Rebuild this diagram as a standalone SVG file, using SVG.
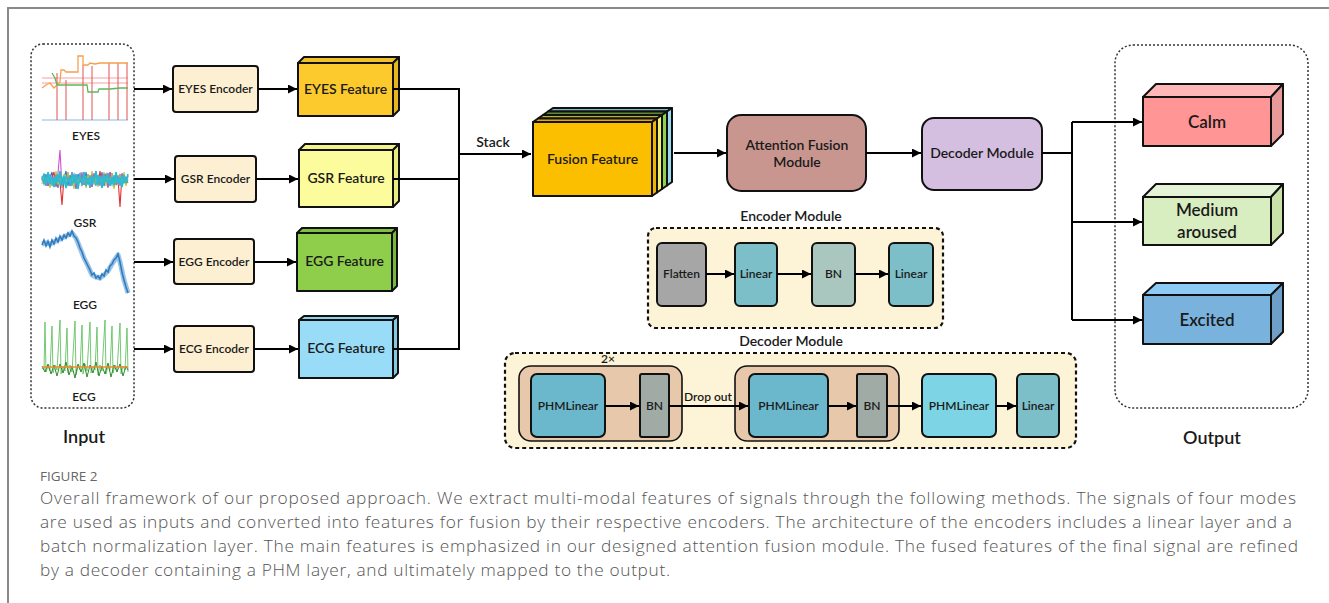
<svg xmlns="http://www.w3.org/2000/svg" width="1329" height="603" viewBox="0 0 1329 603">
<defs>
<marker id="ah" viewBox="0 0 10 10" refX="10" refY="5" markerWidth="13" markerHeight="9" markerUnits="userSpaceOnUse" orient="auto"><path d="M0,0 L10,5 L0,10 z" fill="#000"/></marker>
<style>
text{font-family:Lato,"Liberation Sans",Arial,sans-serif;fill:#1a1a1a;text-anchor:middle;font-weight:600}
.lbl{font-size:12px}
.enc{fill:#fdf0d2;stroke:#111;stroke-width:2}
.edge{stroke:#111;stroke-width:2;stroke-linejoin:round}
.c{fill:none;stroke:#000;stroke-width:2}
.a{marker-end:url(#ah)}
.dot{fill:none;stroke:#333;stroke-width:1.5;stroke-dasharray:2 2}
.dash{stroke:#111;stroke-width:2.2;stroke-dasharray:4 3}
.sm{font-size:12px}
.md{font-size:14px}
.cap{font-family:"Open Sans","Liberation Sans",sans-serif;font-size:17.3px;fill:#555;text-anchor:start;font-weight:300}
</style>
</defs>
<rect width="1329" height="603" fill="#fff"/>
<path d="M8,603 V8 H1329" fill="none" stroke="#8a8a8a" stroke-width="2"/>

<g id="input">
<rect x="31" y="44" width="103" height="364" rx="12" class="dot"/>
<g id="sig-eyes" fill="none">
<line x1="42" y1="120" x2="128" y2="120" stroke="#8fbce0" stroke-width="1.2"/>
<line x1="42" y1="78" x2="128" y2="78" stroke="#f4a0a0" stroke-width="1"/>
<line x1="42" y1="83" x2="128" y2="83" stroke="#f4a0a0" stroke-width="1"/>
<g stroke="#e05050" stroke-width="1"><path d="M57,73V120M66,80V120M83,65V120M92,66V120M109,63V120M118,63V120M127,63V120"/></g>
<polyline stroke="#f5a050" stroke-width="1.3" points="42,88 46,85 50,83 54,88 58,84 60,82 61,70 64,70 66,72 72,72 78,72 78,56 83,56 83,65 88,65 90,63 95,64 100,63 110,63 128,63"/>
<polyline stroke="#5cb85c" stroke-width="1.3" points="52,73 55,78 57,85 65,85 75,85 85,85 87,85 88,92 98,92 99,89 110,89 120,88 128,88"/>
</g>
<text x="86" y="140" class="lbl">EYES</text>
<g id="sig-gsr" fill="none" stroke-width="1.1">
<polyline stroke="#3070d0" points="42,177 44,183 46,174 48,186 50,179 52,172 54,185 56,176 58,188 60,173 62,182 64,178 66,171 68,186 70,175 72,183 74,177 76,189 78,174 80,181 82,176 84,185 86,172 88,184 90,178 92,187 94,174 96,181 98,176 100,183 102,172 104,186 106,178 108,175 110,184 112,173 114,187 116,176 118,182 120,174 122,185 124,178 126,180 128,176"/>
<polyline stroke="#e03030" points="42,181 44,176 46,186 48,173 50,183 52,178 54,172 56,187 58,175 60,182 62,205 64,177 66,184 68,174 70,186 72,172 74,183 76,178 78,185 80,173 82,181 84,176 86,186 88,174 90,188 92,175 94,182 96,177 98,184 100,171 102,186 104,179 106,174 108,187 110,172 112,183 114,176 116,185 118,178 120,207 122,174 124,182 126,179 128,183"/>
<polyline stroke="#d050d0" points="42,178 44,183 46,176 48,186 50,174 52,181 54,177 56,185 58,173 60,150 62,188 64,175 66,184 68,172 70,186 72,179 74,174 76,187 78,176 80,183 82,172 84,185 86,178 88,184 90,175 92,187 94,173 96,182 98,177 100,186 102,174 104,183 106,176 108,188 110,172 112,181 114,178 116,184 118,175 120,186 122,173 124,182 126,177 128,180"/>
<polyline stroke="#c8c020" points="42,184 44,173 46,183 48,175 50,188 52,178 54,186 56,171 58,185 60,177 62,187 64,174 66,182 68,172 70,184 72,176 74,189 76,175 78,183 80,173 82,186 84,178 86,188 88,174 90,184 92,171 94,185 96,177 98,187 100,176 102,182 104,172 106,186 108,175 110,183 112,173 114,189 116,178 118,185 120,174 122,184 124,172 126,186 128,177"/>
<polyline stroke="#20c0d0" stroke-width="1.6" points="42,180 44,174 46,185 48,172 50,184 52,177 54,187 56,175 58,182 60,171 62,186 64,176 66,188 68,178 70,185 72,173 74,183 76,174 78,189 80,177 82,184 84,172 86,186 88,178 90,187 92,175 94,183 96,171 98,185 100,176 102,188 104,174 106,182 108,173 110,186 112,177 114,185 116,172 118,184 120,178 122,187 124,175 126,183 128,174"/>
<polyline stroke="#30b8d8" stroke-width="1.2" points="42,176 44,184 46,178 48,182 50,175 52,186 54,179 56,183 58,174 60,185 62,177 64,184 66,176 68,182 70,178 72,186 74,175 76,183 78,179 80,174 82,185 84,180 86,176 88,183 90,177 92,184 94,179 96,186 98,175 100,182 102,178 104,184 106,176 108,183 110,179 112,185 114,175 116,182 118,178 120,184 122,176 124,183 126,179 128,181"/>
</g>
<text x="85" y="227" class="lbl">GSR</text>
<g id="sig-egg" fill="none">
<polyline stroke="#9cc4e6" stroke-width="5" stroke-linejoin="round" points="42,244 46,243 50,244 54,242 58,240 62,238 66,236 70,234 72,233 76,238 80,248 84,258 88,266 92,275 96,277 100,278 104,275 108,271 112,264 116,258 118,255 120,262 124,280 128,293"/>
<polyline stroke="#2f7dc0" stroke-width="1.6" points="42,245 44,240 46,246 48,241 50,247 52,240 54,244 56,238 58,242 60,236 62,240 64,235 66,238 68,233 70,236 72,231 74,236 76,238 78,242 80,248 82,252 84,258 86,262 88,266 90,270 92,275 94,273 96,278 98,276 100,279 102,274 104,276 106,270 108,272 110,266 112,264 114,260 116,258 118,254 120,262 122,272 124,280 126,287 128,293"/>
</g>
<text x="85" y="309" class="lbl">EGG</text>
<g id="sig-ecg" fill="none">
<polyline stroke="#5cbf5c" stroke-width="1" opacity="0.85" points="42,368 44,370 45,322 46,372 48,366 50,371 52,326 53,373 55,365 57,370 60,320 61,374 63,366 65,371 67,328 68,373 70,365 72,372 75,321 76,375 78,366 80,370 82,325 83,374 85,364 87,371 90,322 91,373 93,366 95,370 97,327 98,375 100,365 102,371 105,320 106,374 108,366 110,370 112,326 113,373 115,365 117,371 120,323 121,374 123,366 125,370 127,328 128,372"/>
<polyline stroke="#2e8b2e" stroke-width="1" points="42,366 45,372 48,364 51,374 54,365 57,376 60,364 63,373 66,362 69,375 72,366 75,378 78,364 81,372 84,363 87,377 90,365 93,373 96,362 99,376 102,366 105,374 108,363 111,377 114,365 117,372 120,364 123,376 126,366 128,370"/>
<line x1="42" y1="367" x2="128" y2="367" stroke="#f08a30" stroke-width="1.6"/>
</g>
<text x="84" y="401" class="lbl">ECG</text>
<text x="84" y="443" style="font-size:18px">Input</text>
</g>

<g id="enc-eyes"><rect x="173" y="66" width="85" height="46" rx="3" class="enc"/><text x="215.5" y="93" class="sm">EYES Encoder</text></g>
<g id="enc-gsr"><rect x="175" y="156" width="81" height="46" rx="3" class="enc"/><text x="215.5" y="183" class="sm">GSR Encoder</text></g>
<g id="enc-egg"><rect x="174" y="239" width="80" height="45" rx="3" class="enc"/><text x="214" y="266" class="sm">EGG Encoder</text></g>
<g id="enc-ecg"><rect x="174" y="326" width="80" height="46" rx="3" class="enc"/><text x="214" y="353" class="sm">ECG Encoder</text></g>

<g id="feat-eyes" class="edge">
<polygon points="298,63 304,57 399,57 393,63" fill="#f2c02a"/>
<polygon points="393,63 399,57 399,110 393,116" fill="#e8b520"/>
<rect x="298" y="63" width="95" height="53" fill="#fdca2e"/>
<text x="345.5" y="94" class="md" style="stroke:none">EYES Feature</text>
</g>
<g id="feat-gsr" class="edge">
<polygon points="299,150 305,144 399,144 393,150" fill="#f4f28a"/>
<polygon points="393,150 399,144 399,201 393,207" fill="#eceb80"/>
<rect x="299" y="150" width="94" height="57" fill="#fdfc9c"/>
<text x="346" y="183" class="md" style="stroke:none">GSR Feature</text>
</g>
<g id="feat-egg" class="edge">
<polygon points="297,233 302,228 397,228 392,233" fill="#80c040"/>
<polygon points="392,233 397,228 397,286 392,291" fill="#78b83a"/>
<rect x="297" y="233" width="95" height="58" fill="#8fce4b"/>
<text x="344.5" y="266" class="md" style="stroke:none">EGG Feature</text>
</g>
<g id="feat-ecg" class="edge">
<polygon points="299,320 304,316 398,316 393,320" fill="#8ed2ee"/>
<polygon points="393,320 398,316 398,373 393,378" fill="#86c8e4"/>
<rect x="299" y="320" width="94" height="58" fill="#99dcf7"/>
<text x="346" y="353" class="md" style="stroke:none">ECG Feature</text>
</g>

<g id="fusion" class="edge" stroke-width="1.6">
<polygon points="548,111.5 667,111.5 672,108 553,108" fill="#7fb8c8"/>
<polygon points="667,111.5 672,108 672,182 667,185.5" fill="#9ad9f0"/>
<polygon points="543,115 662,115 667,111.5 548,111.5" fill="#5f8a30"/>
<polygon points="662,115 667,111.5 667,185.5 662,189" fill="#8fd14f"/>
<polygon points="538,118.5 657,118.5 662,115 543,115" fill="#b8b040"/>
<polygon points="657,118.5 662,115 662,189 657,192.5" fill="#f2ef6a"/>
<polygon points="533,122 652,122 657,118.5 538,118.5" fill="#e0a800"/>
<polygon points="652,122 657,118.5 657,192.5 652,196" fill="#f0b400"/>
<rect x="533" y="122" width="119" height="74" fill="#fcbf00"/>
<text x="592.5" y="164" class="md" style="stroke:none">Fusion Feature</text>
</g>

<g id="attention">
<rect x="727" y="115" width="139" height="76" rx="14" fill="#c9968f" stroke="#111" stroke-width="2"/>
<text x="797" y="150" class="md">Attention Fusion</text>
<text x="797" y="167" class="md">Module</text>
</g>

<g id="decoder">
<rect x="922" y="118" width="120" height="72" rx="12" fill="#d5bfe1" stroke="#111" stroke-width="2"/>
<text x="982" y="158" class="md">Decoder Module</text>
</g>

<g id="encoder-module">
<text x="791" y="221" class="md">Encoder Module</text>
<rect x="648" y="228" width="295" height="100" rx="8" fill="#fdf3d6" class="dash"/>
<rect x="657" y="243" width="49" height="63" rx="5" fill="#a6a6a6" stroke="#111" stroke-width="2"/>
<text x="681.5" y="278" class="sm">Flatten</text>
<rect x="735" y="243" width="42" height="63" rx="5" fill="#7cbfc9" stroke="#111" stroke-width="2"/>
<text x="756" y="278" class="sm">Linear</text>
<rect x="812" y="243" width="43" height="63" rx="5" fill="#a9c7bf" stroke="#111" stroke-width="2"/>
<text x="833.5" y="278" class="sm">BN</text>
<rect x="889" y="243" width="44" height="63" rx="5" fill="#7cbfc9" stroke="#111" stroke-width="2"/>
<text x="911" y="278" class="sm">Linear</text>
</g>

<g id="decoder-module">
<text x="791" y="346" class="md">Decoder Module</text>
<rect x="505" y="353" width="571" height="95" rx="10" fill="#fdf3d6" class="dash"/>
<text x="608" y="363" class="sm">2×</text>
<rect x="519" y="366" width="163" height="75" rx="12" fill="#e8c8aa" stroke="#111" stroke-width="1.6"/>
<rect x="531" y="374" width="74" height="63" rx="6" fill="#6bb7cc" stroke="#111" stroke-width="2"/>
<text x="568" y="410" class="sm">PHMLinear</text>
<rect x="640" y="374" width="29" height="63" rx="2" fill="#a0aba6" stroke="#111" stroke-width="2"/>
<text x="654.5" y="410" class="sm">BN</text>
<text x="708" y="401" class="sm">Drop out</text>
<rect x="735" y="366" width="164" height="75" rx="12" fill="#e8c8aa" stroke="#111" stroke-width="1.6"/>
<rect x="749" y="374" width="79" height="63" rx="6" fill="#6bb7cc" stroke="#111" stroke-width="2"/>
<text x="788.5" y="410" class="sm">PHMLinear</text>
<rect x="857" y="374" width="30" height="63" rx="2" fill="#a0aba6" stroke="#111" stroke-width="2"/>
<text x="872" y="410" class="sm">BN</text>
<rect x="922" y="374" width="74" height="63" rx="6" fill="#7dd4e4" stroke="#111" stroke-width="2"/>
<text x="959" y="410" class="sm">PHMLinear</text>
<rect x="1017" y="374" width="42" height="63" rx="5" fill="#7cbfc9" stroke="#111" stroke-width="2"/>
<text x="1038" y="410" class="sm">Linear</text>
</g>

<g id="output">
<rect x="1115" y="45" width="193" height="363" rx="18" class="dot"/>
<text x="1212" y="444" style="font-size:18px">Output</text>
</g>
<g id="out-calm" class="edge">
<polygon points="1143,97 1156,84 1283,84 1271,97" fill="#ffb6b6"/>
<polygon points="1271,97 1283,84 1283,134 1271,146" fill="#e89a9a"/>
<rect x="1143" y="97" width="128" height="49" fill="#ff9595"/>
<text x="1207" y="128" style="font-size:17px;stroke:none">Calm</text>
</g>
<g id="out-medium" class="edge">
<polygon points="1143,197 1156,184 1283,184 1271,197" fill="#e4f2d6"/>
<polygon points="1271,197 1283,184 1283,233 1271,245" fill="#c8e2a9"/>
<rect x="1143" y="197" width="128" height="48" fill="#d8edc0"/>
<text x="1207" y="216" style="font-size:17px;stroke:none">Medium</text>
<text x="1207" y="238" style="font-size:17px;stroke:none">aroused</text>
</g>
<g id="out-excited" class="edge">
<polygon points="1143,295 1156,283 1283,283 1271,295" fill="#8dcaf5"/>
<polygon points="1271,295 1283,283 1283,332 1271,344" fill="#6e9fc8"/>
<rect x="1143" y="295" width="128" height="49" fill="#7ab2de"/>
<text x="1207" y="326" style="font-size:17px;stroke:none">Excited</text>
</g>

<g id="connectors">
<path class="c a" d="M134,89 H172"/>
<path class="c a" d="M258,89 H297"/>
<path class="c a" d="M134,179 H174"/>
<path class="c a" d="M256,179 H298"/>
<path class="c a" d="M134,262 H173"/>
<path class="c a" d="M254,262 H296"/>
<path class="c a" d="M134,349 H173"/>
<path class="c a" d="M254,349 H298"/>
<path class="c" d="M393,89 H459 V349 H393"/>
<path class="c" d="M393,179 H459"/>
<path class="c a" d="M459,154 H531"/>
<text x="493" y="147" class="md">Stack</text>
<path class="c a" d="M674,153 H726"/>
<path class="c a" d="M866,153 H921"/>
<path class="c" d="M1042,153 H1072 M1072,122 V320"/>
<path class="c a" d="M1072,122 H1142"/>
<path class="c a" d="M1072,222 H1142"/>
<path class="c a" d="M1072,320 H1142"/>
<path class="c a" d="M706,274 H734"/>
<path class="c a" d="M777,274 H811"/>
<path class="c a" d="M855,274 H888"/>
<path class="c a" d="M605,406 H639"/>
<path class="c a" d="M669,406 H748"/>
<path class="c a" d="M828,406 H856"/>
<path class="c a" d="M887,406 H921"/>
<path class="c a" d="M996,406 H1016"/>
</g>

<g id="caption">
<text x="40" y="481" class="cap" style="font-size:13.5px;fill:#666;font-weight:400">FIGURE 2</text>
<text x="40" y="504" class="cap" textLength="1256" lengthAdjust="spacing">Overall framework of our proposed approach. We extract multi-modal features of signals through the following methods. The signals of four modes</text>
<text x="40" y="528" class="cap" textLength="1252" lengthAdjust="spacing">are used as inputs and converted into features for fusion by their respective encoders. The architecture of the encoders includes a linear layer and a</text>
<text x="40" y="552" class="cap" textLength="1258" lengthAdjust="spacing">batch normalization layer. The main features is emphasized in our designed attention fusion module. The fused features of the final signal are refined</text>
<text x="40" y="576" class="cap" textLength="630" lengthAdjust="spacing">by a decoder containing a PHM layer, and ultimately mapped to the output.</text>
</g>
</svg>
